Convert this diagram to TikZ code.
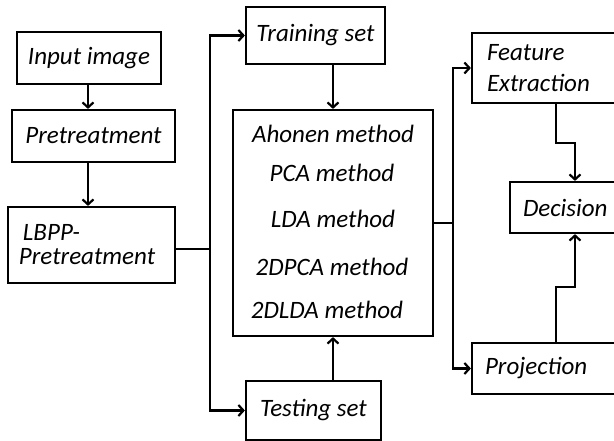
\documentclass[tikz,border=0pt]{standalone}
\usepackage{fontspec}
\setmainfont{Carlito}
\usetikzlibrary{arrows.meta}
\tikzset{
  box/.style={draw, line width=2.2pt, rectangle, inner sep=0pt, align=center,
    font=\fontsize{25}{27}\selectfont\itshape},
  lbox/.style={box, align=left},
  lbl/.style={inner sep=0pt, anchor=base, font=\fontsize{25}{27}\selectfont\itshape},
  link/.style={line width=2.2pt},
  arr/.style={link, -{Straight Barb[length=5pt,width=11pt,line width=2.2pt]}},
}
\begin{document}
\begin{tikzpicture}[x=1pt,y=-1pt]
\useasboundingbox (0,0) rectangle (614,441);

% left column
\node[box, minimum width=144, minimum height=52] (input) at (89,58) {Input image};
\node[box, minimum width=163, minimum height=52] (pre) at (93.5,136) {Pretreatment};
\node[lbox, minimum height=76, inner xsep=11, text width=145,
      font=\fontsize{25}{24}\selectfont\itshape] (lbpp) at (91.5,245)
      {\hspace*{4pt}LBPP-\\Pretreatment};

% middle column
\node[box, minimum width=139, minimum height=57] (train) at (315.5,35.5) {Training set};
\node[box, minimum width=200, minimum height=226] (methods) at (333,223) {};
\node[box, minimum width=135, minimum height=59] (test) at (313.5,410.5) {Testing set};
\node[lbl] (m1) at (333,143) {Ahonen method};
\node[lbl] (m2) at (332,182) {PCA method};
\node[lbl] (m3) at (333,228) {LDA method};
\node[lbl] (m4) at (332,276) {2DPCA method};
\node[lbl] (m5) at (327,318) {2DLDA method};

% right column
\node[lbox, minimum height=70, inner xsep=15, text width=114,
      font=\fontsize{25}{31}\selectfont\itshape] (feat) at (544,68)
      {Feature\\Extraction};
\node[lbox, minimum height=51, inner xsep=13, text width=80] (dec) at (563,207.5) {Decision};
\node[lbox, minimum height=51, inner xsep=13, text width=118] (proj) at (544,368.5) {Projection};

% junction points
\coordinate (j1) at (210,249);
\coordinate (j2) at (453,223);
\coordinate (fx) at (556,103);
\coordinate (px) at (556,343);
\coordinate (dx) at (575,207);

% left flow
\draw[arr] (input.south -| 88,0) -- (pre.north -| 88,0);
\draw[arr] (pre.south -| 88,0) -- (lbpp.north -| 88,0);
\draw[link] (lbpp.east |- j1) -- (j1);
\draw[arr] (j1) -- (j1 |- train.west) -- (train.west);
\draw[arr] (j1) -- (j1 |- test.west) -- (test.west);

% into the method block
\draw[arr] (train.south -| methods) -- (methods.north);
\draw[arr] (test.north -| methods) -- (methods.south);

% to the right column
\draw[link] (methods.east |- j2) -- (j2);
\draw[arr] (j2) -- (j2 |- feat.west) -- (feat.west);
\draw[arr] (j2) -- (j2 |- proj.west) -- (proj.west);

% into the decision
\draw[arr] (feat.south -| fx) -- (556,143) -- (575,143) -- (dec.north -| dx);
\draw[arr] (proj.north -| px) -- (556,287) -- (575,287) -- (dec.south -| dx);
\end{tikzpicture}
\end{document}
